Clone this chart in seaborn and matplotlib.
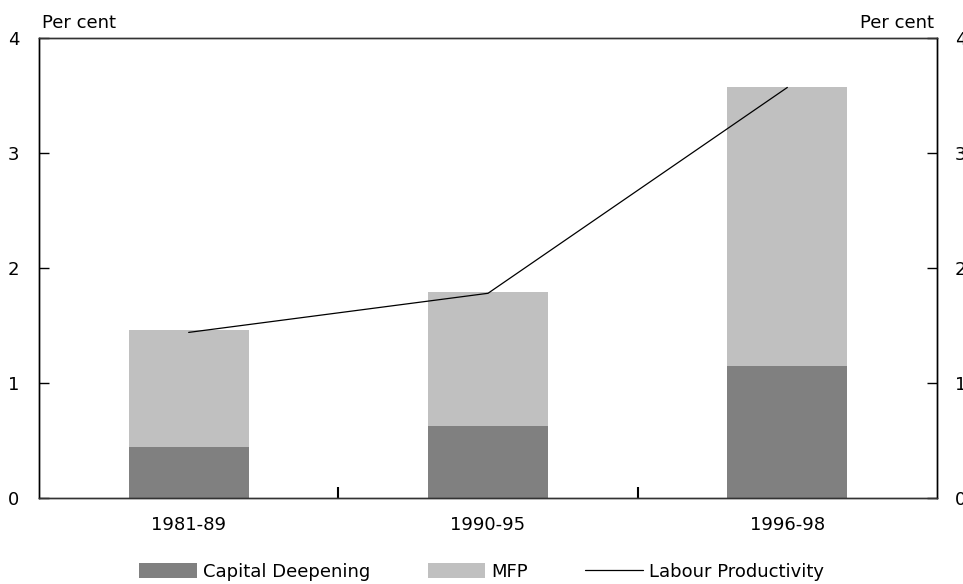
import numpy as np
import matplotlib
matplotlib.use("Agg")
import matplotlib.pyplot as plt
import seaborn as sns
from matplotlib.patches import Patch
from matplotlib.lines import Line2D

periods = ['1981-89', '1990-95', '1996-98']
capital = [0.44, 0.63, 1.15]
mfp = [1.02, 1.16, 2.42]
labour = [1.44, 1.78, 3.57]

dark = '#808080'
light = '#c0c0c0'

sns.set_style("white")
plt.rcParams['font.family'] = ['DejaVu Sans']
plt.rcParams['text.color'] = 'black'
plt.rcParams['xtick.color'] = 'black'
plt.rcParams['ytick.color'] = 'black'

fig = plt.figure(figsize=(9.63, 5.84), dpi=100)
ax = fig.add_axes([39/963, 1-498/584, (937-39)/963, (498-38)/584])

total = np.array(capital) + np.array(mfp)
sns.barplot(x=periods, y=total, color=light, width=0.4, saturation=1, ax=ax,
            edgecolor='none', linewidth=0)
sns.barplot(x=periods, y=capital, color=dark, width=0.4, saturation=1, ax=ax,
            edgecolor='none', linewidth=0)
ax.plot(np.arange(len(periods)), labour, color='black', lw=0.9)

ax.set_xlim(-0.5, len(periods) - 0.5)
ax.set_ylim(0, 4)
ax.set_yticks([0, 1, 2, 3, 4])
ax.tick_params(axis='y', direction='in', length=7, width=1, labelsize=13, pad=14, left=True)
ax.set_xticks(np.arange(len(periods)))
ax.set_xticklabels(periods)
ax.set_xticks([0.5, 1.5], minor=True)
ax.tick_params(axis='x', which='major', length=0, labelsize=13, pad=13)
ax.tick_params(axis='x', which='minor', direction='in', length=8, width=1.5, color='black', bottom=True)

ax2 = ax.twinx()
ax2.set_ylim(0, 4)
ax2.set_yticks([0, 1, 2, 3, 4])
ax2.tick_params(axis='y', direction='in', length=7, width=1, labelsize=13, pad=13)

for a in (ax, ax2):
    for s in a.spines.values():
        s.set_color('#333333')
        s.set_linewidth(1)
    a.spines['left'].set_color('black')
    a.spines['right'].set_color('black')

ax.set_ylabel('')
ax.text(0.003, 1.012, 'Per cent', transform=ax.transAxes, ha='left', va='bottom', fontsize=13)
ax.text(0.997, 1.012, 'Per cent', transform=ax.transAxes, ha='right', va='bottom', fontsize=13)

handles = [Patch(facecolor=dark, edgecolor='none'),
           Patch(facecolor=light, edgecolor='none'),
           Line2D([], [], color='black', lw=0.9)]
labels = ['Capital Deepening', 'MFP', 'Labour Productivity']
fig.legend(handles, labels, loc='center', bbox_to_anchor=(0.5, 1-572/584), ncol=3,
           frameon=False, fontsize=13, handlelength=3.2, handleheight=0.9,
           handletextpad=0.3, columnspacing=3.2)

fig.savefig('out.png', dpi=100)
